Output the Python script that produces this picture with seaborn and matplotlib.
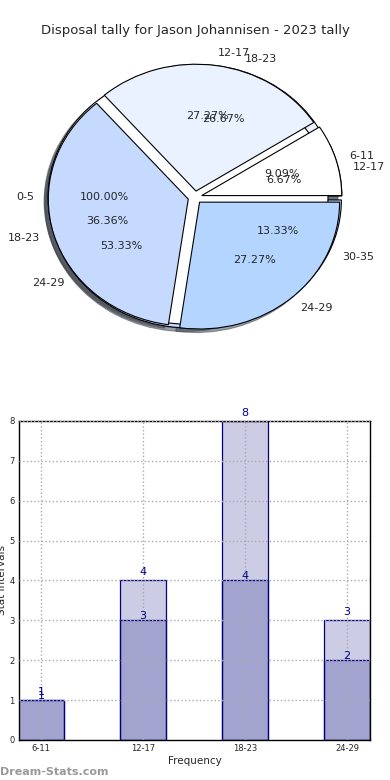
import matplotlib
matplotlib.use("Agg")
import matplotlib.pyplot as plt
import seaborn as sns
import pandas as pd

# pie data: three tallies drawn over each other
pie_a_labels = ["0-5"]
pie_a_values = [1]
pie_c_labels = ["12-17", "18-23", "24-29", "30-35"]
pie_c_values = [1, 4, 8, 2]
pie_b_labels = ["6-11", "12-17", "18-23", "24-29"]
pie_b_values = [1, 3, 4, 3]
pie_colors = ["white", "#eaf1ff", "#c6d9ff", "#b4d5ff"]

# bar data
bar_cats = ["6-11", "12-17", "18-23", "24-29"]
bar_light = [1, 4, 8, 3]
bar_dark = [1, 3, 4, 2]

sns.set_style("white")
plt.rcParams["font.family"] = ["DejaVu Sans"]

fig = plt.figure(figsize=(3.9, 7.8), dpi=100)

# ---- pie ----
ax1 = fig.add_axes([0, 0.551, 1, 0.397])
for labels, vals in [(pie_c_labels, pie_c_values),
                     (pie_a_labels, pie_a_values),
                     (pie_b_labels, pie_b_values)]:
    wedges, texts, autotexts = ax1.pie(
        vals, labels=labels, colors=pie_colors[:len(vals)],
        explode=[0.05] * len(vals), autopct="%1.2f%%", shadow=True,
        startangle=0, wedgeprops=dict(edgecolor="black", linewidth=0.8),
        textprops=dict(fontsize=8))
ax1.set_aspect("auto")
ax1.set_xlim(-1.393, 1.393)
ax1.set_ylim(-1.205, 1.236)
ax1.axis("off")
fig.text(0.5, 0.961, "Disposal tally for Jason Johannisen - 2023 tally",
         ha="center", va="center", fontsize=9.5)

# ---- bars ----
ax2 = fig.add_axes([0.0487, 0.0513, 0.9, 0.409])
df_light = pd.DataFrame({"cat": bar_cats, "val": bar_light})
df_dark = pd.DataFrame({"cat": bar_cats, "val": bar_dark})
sns.barplot(data=df_light, x="cat", y="val", color="navy", width=0.45,
            saturation=1, edgecolor="navy", linewidth=0.9, ax=ax2)
sns.barplot(data=df_dark, x="cat", y="val", color="navy", width=0.45,
            saturation=1, edgecolor="navy", linewidth=0.9, ax=ax2)
for p in ax2.patches:
    p.set_facecolor((0, 0, 0.5, 0.2))
    p.set_edgecolor("navy")

for i, v in enumerate(bar_light):
    ax2.text(i, v + 0.08, str(v), ha="center", va="bottom", fontsize=8, color="darkblue")
for i, v in enumerate(bar_dark):
    ax2.text(i, v - 0.02, str(v), ha="center", va="bottom", fontsize=8, color="darkblue")

ax2.set_xlim(-0.215, 3.225)
ax2.set_ylim(0, 8)
ax2.set_yticks(range(9))
ax2.grid(True, linestyle=":", color="#aaaaaa", linewidth=1)
ax2.set_axisbelow(False)
ax2.tick_params(labelsize=6, direction="in", length=3, pad=3)
ax2.set_xlabel("Frequency", fontsize=7.5, labelpad=2)
ax2.set_ylabel("Stat Intervals", fontsize=7.5, labelpad=2)
for s in ax2.spines.values():
    s.set_color("black")
    s.set_linewidth(1)

fig.text(0.0, 0.01, "Dream-Stats.com", fontsize=8, color="#999999",
         fontweight="bold", ha="left", va="center")

fig.savefig("out.png", dpi=100)
